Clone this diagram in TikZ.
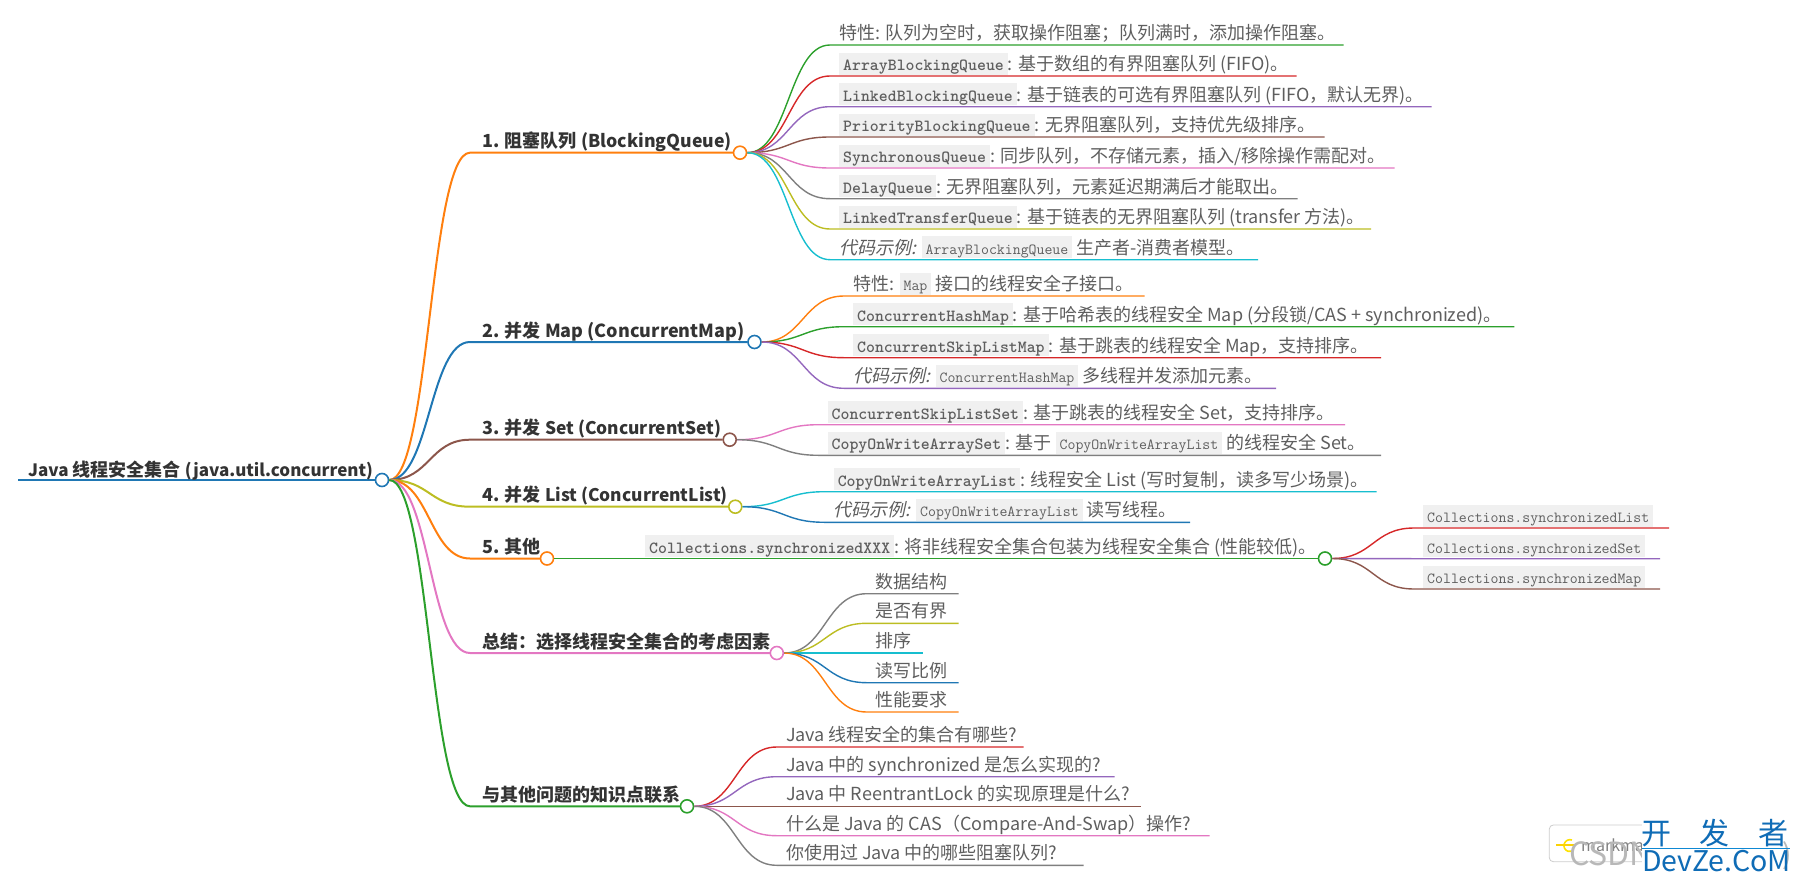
\documentclass[tikz,border=0pt]{standalone}
\usepackage{fontspec}
\usepackage{xcolor}
\usetikzlibrary{calc}
\setmainfont{Noto Sans CJK SC}
\newfontfamily\slantfont[FakeSlant=0.22]{Noto Sans CJK SC}
\definecolor{cOrange}{HTML}{FF7F0E}
\definecolor{cBlue}{HTML}{1F77B4}
\definecolor{cGreen}{HTML}{2CA02C}
\definecolor{cRed}{HTML}{D62728}
\definecolor{cPurple}{HTML}{9467BD}
\definecolor{cBrown}{HTML}{8C564B}
\definecolor{cPink}{HTML}{E377C2}
\definecolor{cGray}{HTML}{7F7F7F}
\definecolor{cOlive}{HTML}{BCBD22}
\definecolor{cCyan}{HTML}{17BECF}
\definecolor{codebg}{HTML}{F0F0F0}
\definecolor{leafink}{HTML}{5E5E5E}
\definecolor{boldink}{HTML}{333333}
\definecolor{siteblue}{HTML}{0F6CB6}
\newcommand{\bcode}[1]{{\setlength{\fboxsep}{0pt}\colorbox{codebg}{\rule[-4.2pt]{0pt}{22pt}\kern4pt\ttfamily\bfseries\fontsize{17}{17}\selectfont #1\kern4pt}}}
\newcommand{\icode}[1]{{\setlength{\fboxsep}{0pt}\colorbox{codebg}{\rule[-4.2pt]{0pt}{22pt}\kern4pt\ttfamily\fontsize{15.4}{15.4}\selectfont #1\kern4pt}}}
\newcommand{\egli}[1]{{\slantfont #1}}
\newcommand{\lat}[2]{{\fontsize{#1}{18}\selectfont #2}}
% style, colour, name, parent, x start, x end, y, text
\newcommand{\twig}[8]{%
\coordinate (#3s) at (#5,#7);
\coordinate (#3e) at (#6,#7);
\coordinate (#3m) at ($(#4.east)!0.5!(#3s)$);
\draw[#1,#2] (#4.east) .. controls (#3m |- #4.east) and (#3m |- #3s) .. (#3s) -- (#3e);
\node[#1text] (#3) at ($(#3s)+(9.5,-6)$) {#8};}
\tikzset{
  dot/.style={circle,draw=#1,fill=white,line width=1.6pt,minimum size=13pt,inner sep=0pt},
  limb/.style={line width=2pt},
  limbtext/.style={anchor=base west,inner sep=0pt,xshift=2.5pt,yshift=-1pt,text=boldink,font=\fontsize{18}{18}\selectfont\bfseries},
  stalk/.style={line width=1.4pt},
  stalktext/.style={anchor=base west,inner sep=0pt,xshift=-0.5pt,yshift=-0.5pt,text=leafink,font=\fontsize{18}{18}\selectfont},
}
\begin{document}
\begin{tikzpicture}[x=1pt,y=-1pt]
\useasboundingbox (0,0) rectangle (1796,883);
% dots
\node[dot=cBlue] (root) at (382,480) {};
\node[dot=cOrange] (n1) at (740,152.7) {};
\node[dot=cBlue] (n2) at (754.5,342) {};
\node[dot=cBrown] (n3) at (729.7,439.7) {};
\node[dot=cOlive] (n4) at (735.3,506.7) {};
\node[dot=cOrange] (n5) at (547,558.5) {};
\node[dot=cGreen] (n5a) at (1325,558.5) {};
\node[dot=cPink] (n6) at (776.8,653) {};
\node[dot=cGreen] (n7) at (687,806.3) {};
% root
\coordinate (rootw) at (18,480);
\draw[line width=2.6pt,cBlue] (rootw) -- (root.west);
\node[limbtext] (title) at (25.5,475.5) {\lat{17}{Java} 线程安全集合 \lat{17}{(java.util.concurrent)}};
% first level
\twig{limb}{cOrange}{l1}{root}{470}{733}{152.7}{1. 阻塞队列 \lat{17.7}{(BlockingQueue)}}
\twig{limb}{cBlue}{l2}{root}{470}{747.5}{342}{2. 并发 Map (ConcurrentMap)}
\twig{limb}{cBrown}{l3}{root}{470}{722.7}{439.7}{3. 并发 \lat{17.4}{Set (ConcurrentSet)}}
\twig{limb}{cOlive}{l4}{root}{470}{728.3}{506.7}{4. 并发 \lat{17.4}{List (ConcurrentList)}}
\twig{limb}{cOrange}{l5}{root}{470}{540}{558.5}{5. 其他}
\twig{limb}{cPink}{l6}{root}{470}{769.8}{653}{总结：选择线程安全集合的考虑因素}
\twig{limb}{cGreen}{l7}{root}{470}{680}{806.3}{与其他问题的知识点联系}
% 1
\twig{stalk}{cGreen}{a1}{n1}{830}{1343.5}{45}{特性: 队列为空时，获取操作阻塞；队列满时，添加操作阻塞。}
\twig{stalk}{cRed}{a2}{n1}{830}{1296.5}{76}{\bcode{ArrayBlockingQueue}: 基于数组的有界阻塞队列 (FIFO)。}
\twig{stalk}{cPurple}{a3}{n1}{830}{1431.7}{106.7}{\bcode{LinkedBlockingQueue}: 基于链表的可选有界阻塞队列 (FIFO，默认无界)。}
\twig{stalk}{cBrown}{a4}{n1}{830}{1324.6}{137}{\bcode{PriorityBlockingQueue}: 无界阻塞队列，支持优先级排序。}
\twig{stalk}{cPink}{a5}{n1}{830}{1394.5}{168}{\bcode{SynchronousQueue}: 同步队列，不存储元素，插入/移除操作需配对。}
\twig{stalk}{cGray}{a6}{n1}{830}{1297.6}{198.7}{\bcode{DelayQueue}: 无界阻塞队列，元素延迟期满后才能取出。}
\twig{stalk}{cOlive}{a7}{n1}{830}{1371}{229}{\bcode{LinkedTransferQueue}: 基于链表的无界阻塞队列 (transfer 方法)。}
\twig{stalk}{cCyan}{a8}{n1}{830}{1258}{259.7}{\egli{代码示例:} \icode{ArrayBlockingQueue} 生产者-消费者模型。}
% 2
\twig{stalk}{cOrange}{b1}{n2}{844}{1144.5}{296}{特性: \icode{Map} 接口的线程安全子接口。}
\twig{stalk}{cGreen}{b2}{n2}{844}{1514.4}{326.7}{\bcode{ConcurrentHashMap}: 基于哈希表的线程安全 Map (分段锁/CAS + synchronized)。}
\twig{stalk}{cRed}{b3}{n2}{844}{1381}{357.7}{\bcode{ConcurrentSkipListMap}: 基于跳表的线程安全 Map，支持排序。}
\twig{stalk}{cPurple}{b4}{n2}{844}{1276}{388.3}{\egli{代码示例:} \icode{ConcurrentHashMap} 多线程并发添加元素。}
% 3
\twig{stalk}{cPink}{c1}{n3}{818.5}{1345}{424.7}{\bcode{ConcurrentSkipListSet}: 基于跳表的线程安全 Set，支持排序。}
\twig{stalk}{cGray}{c2}{n3}{818.5}{1381}{455.3}{\bcode{CopyOnWriteArraySet}: 基于 \icode{CopyOnWriteArrayList} 的线程安全 Set。}
% 4
\twig{stalk}{cCyan}{d1}{n4}{824.6}{1376.6}{491.7}{\bcode{CopyOnWriteArrayList}: 线程安全 List (写时复制，读多写少场景)。}
\twig{stalk}{cBlue}{d2}{n4}{824.6}{1190}{522.3}{\egli{代码示例:} \icode{CopyOnWriteArrayList} 读写线程。}
% 5
\twig{stalk}{cGreen}{e1}{n5}{636}{1318}{558.5}{\bcode{Collections.synchronizedXXX}: 将非线程安全集合包装为线程安全集合 (性能较低)。}
\twig{stalk}{cRed}{f1}{n5a}{1414}{1669}{528}{\icode{Collections.synchronizedList}}
\twig{stalk}{cPurple}{f2}{n5a}{1414}{1660}{558.7}{\icode{Collections.synchronizedSet}}
\twig{stalk}{cBrown}{f3}{n5a}{1414}{1660}{589}{\icode{Collections.synchronizedMap}}
% summary
\twig{stalk}{cGray}{g1}{n6}{866.7}{958.6}{593.7}{数据结构}
\twig{stalk}{cOlive}{g2}{n6}{866.7}{958.6}{623.3}{是否有界}
\twig{stalk}{cCyan}{g3}{n6}{866.7}{923}{653}{排序}
\twig{stalk}{cBlue}{g4}{n6}{866.7}{958.6}{682.7}{读写比例}
\twig{stalk}{cOrange}{g5}{n6}{866.7}{958.6}{712}{性能要求}
% related
\twig{stalk}{cRed}{h1}{n7}{776.8}{1023.6}{747}{Java 线程安全的集合有哪些?}
\twig{stalk}{cPurple}{h2}{n7}{776.8}{1114.5}{776.7}{Java 中的 synchronized 是怎么实现的?}
\twig{stalk}{cBrown}{h3}{n7}{776.8}{1141}{806.3}{Java 中 ReentrantLock 的实现原理是什么?}
\twig{stalk}{cPink}{h4}{n7}{776.8}{1209.5}{835.7}{什么是 Java 的 CAS（Compare-And-Swap）操作?}
\twig{stalk}{cGray}{h5}{n7}{776.8}{1083.5}{865.3}{你使用过 Java 中的哪些阻塞队列?}
% watermark
\draw[rounded corners=4pt,draw=black!20,line width=.8pt] (1549.3,825) rectangle (1650,861.7);
\draw[line width=1.6pt,color=yellow!85!orange] (1572,840) arc[start angle=70,end angle=290,radius=6pt];
\draw[line width=1.4pt,color=yellow!70!orange] (1556,845) -- (1574,845);
\node[anchor=base west,inner sep=0pt,text=black!50,font=\fontsize{16}{16}\selectfont] (mm) at (1581,851) {markmap};
\node[anchor=base west,inner sep=0pt,text=black!28,font=\fontsize{32}{32}\selectfont] (csdn) at (1569,865) {CSDN};
\node[anchor=base west,inner sep=0pt,text=black!28,font=\fontsize{28}{28}\selectfont] (paren) at (1782,864) {)};
\fill[white] (1642,820) rectangle (1781,875);
\node[anchor=base west,inner sep=0pt,text=siteblue,font=\fontsize{30}{30}\selectfont] (kf) at (1641,844) {开\hspace{28.5pt}发\hspace{28.5pt}者};
\draw[line width=.9pt,color=cyan!70!blue] (1642,848.3) -- (1790,848.3);
\node[anchor=base west,inner sep=0pt,text=siteblue,font=\fontsize{28.5}{28.5}\selectfont] (dz) at (1642,871) {DevZe.CoM};
\end{tikzpicture}
\end{document}
